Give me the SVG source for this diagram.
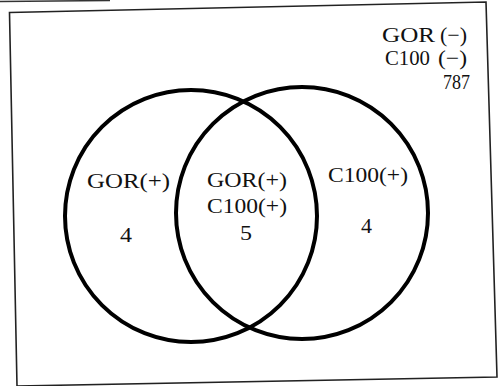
<svg xmlns="http://www.w3.org/2000/svg" width="503" height="386" viewBox="0 0 503 386">
<style>
.t{font-family:"Liberation Serif","Times New Roman",serif;font-size:21px;fill:#111}
.c{fill:none;stroke:#000;stroke-width:4}
.f{fill:none;stroke:#222;stroke-width:1.6}
</style>
<rect width="503" height="386" fill="#fff"/>
<g id="frame">
<line x1="0" y1="1.5" x2="110" y2="0.5" stroke="#333" stroke-width="1.5"/>
<polygon class="f" points="9.5,12.5 486,2 497,377 17,386"/>
</g>
<g id="set-gor"><circle class="c" cx="191" cy="216" r="126"/></g>
<g id="set-c100"><circle class="c" cx="302" cy="213" r="126"/></g>
<g id="outside">
<text class="t" x="382" y="42" textLength="53" lengthAdjust="spacingAndGlyphs">GOR</text>
<text class="t" x="440" y="42" textLength="27" lengthAdjust="spacingAndGlyphs">(−)</text>
<text class="t" x="385" y="65" textLength="45" lengthAdjust="spacingAndGlyphs">C100</text>
<text class="t" x="438" y="65" textLength="29" lengthAdjust="spacingAndGlyphs">(−)</text>
<text class="t" x="443" y="89" textLength="27" lengthAdjust="spacingAndGlyphs">787</text>
</g>
<g id="gor-only">
<text class="t" x="87" y="188" textLength="83" lengthAdjust="spacingAndGlyphs">GOR(+)</text>
<text class="t" x="120" y="242" textLength="12" lengthAdjust="spacingAndGlyphs">4</text>
</g>
<g id="both">
<text class="t" x="207" y="187" textLength="80" lengthAdjust="spacingAndGlyphs">GOR(+)</text>
<text class="t" x="207" y="213" textLength="80" lengthAdjust="spacingAndGlyphs">C100(+)</text>
<text class="t" x="240" y="240" textLength="12" lengthAdjust="spacingAndGlyphs">5</text>
</g>
<g id="c100-only">
<text class="t" x="328" y="182" textLength="80" lengthAdjust="spacingAndGlyphs">C100(+)</text>
<text class="t" x="361" y="233" textLength="11" lengthAdjust="spacingAndGlyphs">4</text>
</g>
</svg>
